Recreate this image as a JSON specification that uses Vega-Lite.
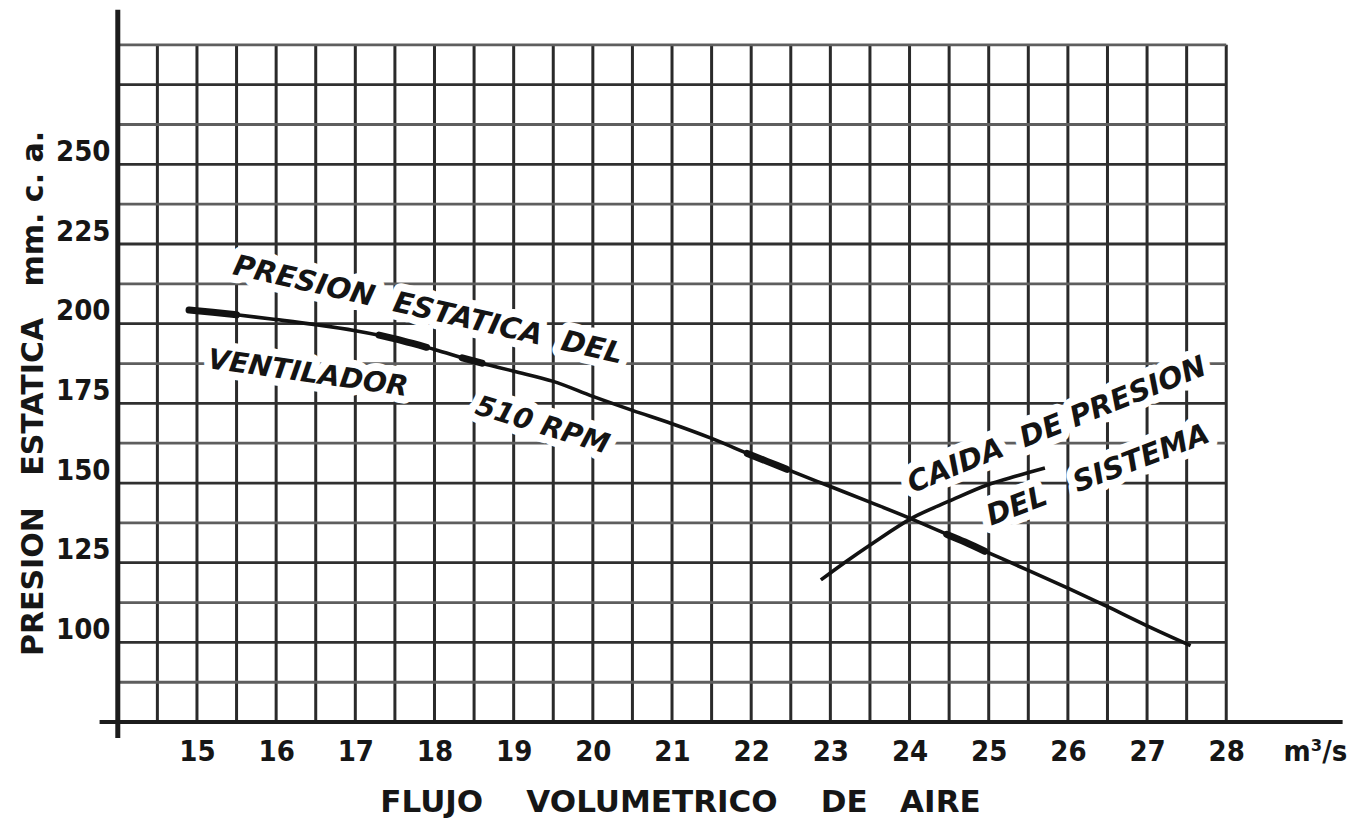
{
  "$schema": "https://vega.github.io/schema/vega-lite/v6.json",
  "width": 1247,
  "height": 733,
  "autosize": {"type": "none"},
  "padding": {"left": 98, "top": 5, "right": 25, "bottom": 83},
  "background": "white",
  "config": {"view": {"stroke": null}, "font": "DejaVu Sans"},
  "datasets": {
    "verticales": [
      {"x": 14}, {"x": 14.5}, {"x": 15}, {"x": 15.5}, {"x": 16}, {"x": 16.5}, {"x": 17}, {"x": 17.5},
      {"x": 18}, {"x": 18.5}, {"x": 19}, {"x": 19.5}, {"x": 20}, {"x": 20.5}, {"x": 21}, {"x": 21.5},
      {"x": 22}, {"x": 22.5}, {"x": 23}, {"x": 23.5}, {"x": 24}, {"x": 24.5}, {"x": 25}, {"x": 25.5},
      {"x": 26}, {"x": 26.5}, {"x": 27}, {"x": 27.5}, {"x": 28}
    ],
    "horizontales": [
      {"y": 75}, {"y": 87.5}, {"y": 100}, {"y": 112.5}, {"y": 125}, {"y": 137.5}, {"y": 150}, {"y": 162.5},
      {"y": 175}, {"y": 187.5}, {"y": 200}, {"y": 212.5}, {"y": 225}, {"y": 237.5}, {"y": 250}, {"y": 262.5},
      {"y": 275}, {"y": 287.5}
    ],
    "ventilador": [
      {"x": 14.9, "y": 204.3}, {"x": 15.5, "y": 202.8}, {"x": 16.0, "y": 201.3}, {"x": 16.5, "y": 199.7},
      {"x": 17.0, "y": 197.8}, {"x": 17.5, "y": 195.3}, {"x": 18.0, "y": 191.9}, {"x": 18.5, "y": 188.2},
      {"x": 19.0, "y": 185.1}, {"x": 19.5, "y": 181.9}, {"x": 20.0, "y": 177.2}, {"x": 20.5, "y": 172.8},
      {"x": 21.0, "y": 168.6}, {"x": 21.5, "y": 164.0}, {"x": 22.0, "y": 158.8}, {"x": 22.5, "y": 153.8},
      {"x": 23.0, "y": 148.9}, {"x": 23.5, "y": 144.0}, {"x": 24.0, "y": 139.0}, {"x": 24.5, "y": 133.6},
      {"x": 25.0, "y": 128.1}, {"x": 25.5, "y": 122.6}, {"x": 26.0, "y": 117.0}, {"x": 26.5, "y": 111.2},
      {"x": 27.0, "y": 105.2}, {"x": 27.55, "y": 99.0}
    ],
    "trazos": [
      {"tramo": "a", "x": 14.9, "y": 204.3}, {"tramo": "a", "x": 15.2, "y": 203.6}, {"tramo": "a", "x": 15.5, "y": 202.8},
      {"tramo": "b", "x": 17.3, "y": 196.4}, {"tramo": "b", "x": 17.6, "y": 194.6}, {"tramo": "b", "x": 17.9, "y": 192.6},
      {"tramo": "c", "x": 18.35, "y": 189.3}, {"tramo": "c", "x": 18.6, "y": 187.6},
      {"tramo": "d", "x": 21.95, "y": 159.3}, {"tramo": "d", "x": 22.2, "y": 156.8}, {"tramo": "d", "x": 22.45, "y": 154.3},
      {"tramo": "e", "x": 24.47, "y": 133.9}, {"tramo": "e", "x": 24.7, "y": 131.5}, {"tramo": "e", "x": 24.95, "y": 128.6}
    ],
    "sistema": [
      {"x": 22.88, "y": 119.6}, {"x": 23.2, "y": 125.4}, {"x": 23.54, "y": 131.2}, {"x": 24.03, "y": 139.0},
      {"x": 24.5, "y": 144.3}, {"x": 24.98, "y": 149.4}, {"x": 25.35, "y": 152.2}, {"x": 25.71, "y": 154.7}
    ],
    "rotulos": [
      {"id": "presion", "texto": "PRESION\u00a0\u00a0ESTATICA\u00a0\u00a0DEL", "x": 17.92, "y": 204.3},
      {"id": "ventilador", "texto": "VENTILADOR", "x": 16.4, "y": 184.2},
      {"id": "rpm", "texto": "510 RPM", "x": 19.36, "y": 167.9},
      {"id": "caida", "texto": "CAIDA\u00a0\u00a0DE PRESION", "x": 25.86, "y": 168.2},
      {"id": "sistema", "texto": "DEL\u00a0\u00a0\u00a0SISTEMA", "x": 26.38, "y": 152.5}
    ]
  },
  "layer": [
    {
      "data": {"name": "ventilador"},
      "mark": {"type": "line", "color": "#121212", "strokeWidth": 3.6, "interpolate": "monotone", "opacity": 0},
      "encoding": {
        "x": {
          "field": "x", "type": "quantitative",
          "scale": {"domain": [13.75, 29.5], "nice": false, "zero": false},
          "axis": {
            "values": [15, 16, 17, 18, 19, 20, 21, 22, 23, 24, 25, 26, 27, 28, 29.12],
            "labelExpr": "datum.value > 28.5 ? 'm³/s' : format(datum.value, 'd')",
            "domain": false, "ticks": false, "grid": false,
            "labelFont": "DejaVu Sans Condensed", "labelFontWeight": "bold", "labelFontSize": 29,
            "labelColor": "#161616", "labelPadding": 22, "labelBaseline": "alphabetic",
            "labelFlush": false, "labelOverlap": false,
            "title": "FLUJO\u00a0\u00a0\u00a0\u00a0VOLUMETRICO\u00a0\u00a0\u00a0\u00a0DE\u00a0\u00a0\u00a0AIRE",
            "titleFont": "DejaVu Sans", "titleFontWeight": "bold", "titleFontSize": 31, "titleColor": "#161616",
            "titleX": 582, "titleY": 73, "titleBaseline": "alphabetic", "titleAlign": "center"
          }
        },
        "y": {
          "field": "y", "type": "quantitative",
          "scale": {"domain": [70, 300], "nice": false, "zero": false},
          "axis": {
            "values": [100, 125, 150, 175, 200, 225, 250],
            "domain": false, "ticks": false, "grid": false,
            "labelFont": "DejaVu Sans Condensed", "labelFontWeight": "bold", "labelFontSize": 29,
            "labelColor": "#161616", "labelPadding": -12, "labelOffset": -13,
            "labelBaseline": "middle", "labelAlign": "right", "labelFlush": false, "labelOverlap": false,
            "title": "PRESION\u00a0\u00a0\u00a0ESTATICA\u00a0\u00a0\u00a0mm.\u00a0c.\u00a0a.",
            "titleFont": "DejaVu Sans", "titleFontWeight": "bold", "titleFontSize": 30, "titleColor": "#161616",
            "titleAngle": 270, "titleX": -56, "titleY": 388, "titleBaseline": "alphabetic", "titleAlign": "center"
          }
        }
      }
    },
    {
      "data": {"name": "verticales"},
      "mark": {"type": "rule", "color": "#2a2a2a", "strokeWidth": 3},
      "encoding": {
        "x": {"field": "x", "type": "quantitative"},
        "y": {"datum": 75, "type": "quantitative"},
        "y2": {"datum": 287.5}
      }
    },
    {
      "data": {"name": "horizontales"},
      "mark": {"type": "rule", "strokeWidth": 2.8},
      "encoding": {
        "y": {"field": "y", "type": "quantitative"},
        "x": {"datum": 14, "type": "quantitative"},
        "x2": {"datum": 28},
        "color": {
          "condition": {"test": "datum.y % 25 == 0", "value": "#303030"},
          "value": "#5e5e5e"
        }
      }
    },
    {
      "data": {"values": [{}]},
      "layer": [
        {
          "mark": {"type": "rule", "color": "#1c1c1c", "strokeWidth": 5},
          "encoding": {
            "x": {"datum": 14, "type": "quantitative"},
            "y": {"datum": 70, "type": "quantitative"},
            "y2": {"datum": 298.5}
          }
        },
        {
          "mark": {"type": "rule", "color": "#1c1c1c", "strokeWidth": 4},
          "encoding": {
            "x": {"datum": 13.77, "type": "quantitative"},
            "x2": {"datum": 29.47},
            "y": {"datum": 75, "type": "quantitative"}
          }
        }
      ]
    },
    {
      "data": {"name": "ventilador"},
      "mark": {"type": "line", "color": "#121212", "strokeWidth": 3.6, "interpolate": "monotone"},
      "encoding": {
        "x": {"field": "x", "type": "quantitative"},
        "y": {"field": "y", "type": "quantitative"}
      }
    },
    {
      "data": {"name": "trazos"},
      "mark": {"type": "line", "color": "#121212", "strokeWidth": 7, "strokeCap": "round", "interpolate": "monotone"},
      "encoding": {
        "x": {"field": "x", "type": "quantitative"},
        "y": {"field": "y", "type": "quantitative"},
        "detail": {"field": "tramo"}
      }
    },
    {
      "data": {"name": "sistema"},
      "mark": {"type": "line", "color": "#121212", "strokeWidth": 3.6, "interpolate": "monotone"},
      "encoding": {
        "x": {"field": "x", "type": "quantitative"},
        "y": {"field": "y", "type": "quantitative"}
      }
    },
    {
      "data": {"name": "rotulos"},
      "transform": [{"filter": "datum.id == 'presion'"}],
      "encoding": {
        "x": {"field": "x", "type": "quantitative"},
        "y": {"field": "y", "type": "quantitative"},
        "text": {"field": "texto"}
      },
      "layer": [
        {"mark": {"type": "text", "angle": 13, "fontSize": 29, "fontWeight": "bold", "fontStyle": "italic", "align": "center", "baseline": "middle", "color": "white", "stroke": "white", "strokeWidth": 16, "strokeJoin": "round"}},
        {"mark": {"type": "text", "angle": 13, "fontSize": 29, "fontWeight": "bold", "fontStyle": "italic", "align": "center", "baseline": "middle", "color": "#141414"}}
      ]
    },
    {
      "data": {"name": "rotulos"},
      "transform": [{"filter": "datum.id == 'ventilador'"}],
      "encoding": {
        "x": {"field": "x", "type": "quantitative"},
        "y": {"field": "y", "type": "quantitative"},
        "text": {"field": "texto"}
      },
      "layer": [
        {"mark": {"type": "text", "angle": 8, "fontSize": 28, "fontWeight": "bold", "fontStyle": "italic", "align": "center", "baseline": "middle", "color": "white", "stroke": "white", "strokeWidth": 16, "strokeJoin": "round"}},
        {"mark": {"type": "text", "angle": 8, "fontSize": 28, "fontWeight": "bold", "fontStyle": "italic", "align": "center", "baseline": "middle", "color": "#141414"}}
      ]
    },
    {
      "data": {"name": "rotulos"},
      "transform": [{"filter": "datum.id == 'rpm'"}],
      "encoding": {
        "x": {"field": "x", "type": "quantitative"},
        "y": {"field": "y", "type": "quantitative"},
        "text": {"field": "texto"}
      },
      "layer": [
        {"mark": {"type": "text", "angle": 17, "fontSize": 28, "fontWeight": "bold", "fontStyle": "italic", "align": "center", "baseline": "middle", "color": "white", "stroke": "white", "strokeWidth": 16, "strokeJoin": "round"}},
        {"mark": {"type": "text", "angle": 17, "fontSize": 28, "fontWeight": "bold", "fontStyle": "italic", "align": "center", "baseline": "middle", "color": "#141414"}}
      ]
    },
    {
      "data": {"name": "rotulos"},
      "transform": [{"filter": "datum.id == 'caida'"}],
      "encoding": {
        "x": {"field": "x", "type": "quantitative"},
        "y": {"field": "y", "type": "quantitative"},
        "text": {"field": "texto"}
      },
      "layer": [
        {"mark": {"type": "text", "angle": -22, "fontSize": 29, "fontWeight": "bold", "fontStyle": "italic", "align": "center", "baseline": "middle", "color": "white", "stroke": "white", "strokeWidth": 16, "strokeJoin": "round"}},
        {"mark": {"type": "text", "angle": -22, "fontSize": 29, "fontWeight": "bold", "fontStyle": "italic", "align": "center", "baseline": "middle", "color": "#141414"}}
      ]
    },
    {
      "data": {"name": "rotulos"},
      "transform": [{"filter": "datum.id == 'sistema'"}],
      "encoding": {
        "x": {"field": "x", "type": "quantitative"},
        "y": {"field": "y", "type": "quantitative"},
        "text": {"field": "texto"}
      },
      "layer": [
        {"mark": {"type": "text", "angle": -21, "fontSize": 29, "fontWeight": "bold", "fontStyle": "italic", "align": "center", "baseline": "middle", "color": "white", "stroke": "white", "strokeWidth": 16, "strokeJoin": "round"}},
        {"mark": {"type": "text", "angle": -21, "fontSize": 29, "fontWeight": "bold", "fontStyle": "italic", "align": "center", "baseline": "middle", "color": "#141414"}}
      ]
    }
  ]
}
